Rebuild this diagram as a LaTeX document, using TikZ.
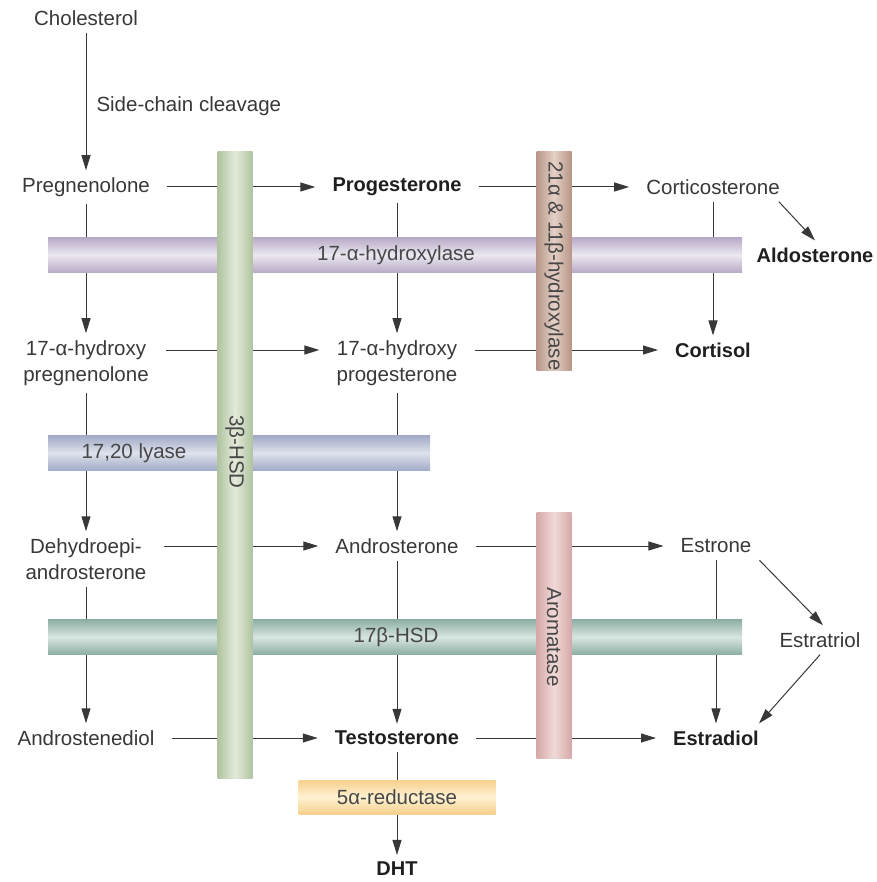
\documentclass[tikz,border=0pt]{standalone}
\usepackage{fontspec}
\setmainfont{Liberation Sans}
\usetikzlibrary{arrows.meta,backgrounds}

\definecolor{purpedge}{RGB}{184,170,200}
\definecolor{purpmid}{RGB}{236,232,240}
\definecolor{greenedge}{RGB}{176,196,160}
\definecolor{greenmid}{RGB}{228,234,218}
\definecolor{brownedge}{RGB}{184,150,136}
\definecolor{brownmid}{RGB}{228,208,198}
\definecolor{blueedge}{RGB}{162,170,198}
\definecolor{bluemid}{RGB}{222,226,236}
\definecolor{tealedge}{RGB}{140,174,164}
\definecolor{tealmid}{RGB}{216,230,224}
\definecolor{pinkedge}{RGB}{214,168,168}
\definecolor{pinkmid}{RGB}{240,218,216}
\definecolor{yellowedge}{RGB}{246,208,140}
\definecolor{yellowmid}{RGB}{255,242,210}

\begin{document}
\begin{tikzpicture}[x=1pt,y=-1pt,
  txt/.style={text=black!78, font=\fontsize{20.5}{26}\selectfont, inner xsep=17pt, inner ysep=7pt, align=center},
  bold/.style={txt, font=\fontsize{20}{26}\selectfont\bfseries, text=black!88},
  lbl/.style={text=black!72, font=\fontsize{20.5}{24}\selectfont, inner sep=0pt},
  arr/.style={-{Triangle[length=15pt,width=9pt]}, line width=1pt, black!78},
  hbar/.style={minimum height=35pt, inner sep=0pt, top color=#1edge, bottom color=#1edge, middle color=#1mid},
  vbar/.style={minimum width=35pt, inner sep=0pt, left color=#1edge, right color=#1edge, middle color=#1mid}]
\useasboundingbox (0,0) rectangle (876,882);

% steroids
\node[txt] (chol) at (86,18) {Cholesterol};
\node[txt] (preg) at (86,187) {Pregnenolone};
\node[bold] (prog) at (397,187) {Progesterone};
\node[txt] (cort) at (713,187) {Corticosterone};
\node[bold] (aldo) at (815,255) {Aldosterone};
\node[txt] (hpreg) at (86,363) {17-α-hydroxy\\pregnenolone};
\node[txt] (hprog) at (397,363) {17-α-hydroxy\\progesterone};
\node[bold] (cortisol) at (713,350) {Cortisol};
\node[txt] (dhea) at (86,559) {Dehydroepi-\\androsterone};
\node[txt] (andro) at (397,546) {Androsterone};
\node[txt] (estrone) at (716,546) {Estrone};
\node[txt] (estriol) at (820,640) {Estratriol};
\node[txt] (andiol) at (86,738) {Androstenediol};
\node[bold] (testo) at (397,738) {Testosterone};
\node[bold] (estradiol) at (716,738) {Estradiol};
\node[bold] (dht) at (397,869) {DHT};

% conversions
\begin{scope}[on background layer]
\draw[arr] (chol) -- node[txt, anchor=west, inner xsep=0pt, xshift=10pt, yshift=-5pt] (cleave) {Side-chain cleavage} (preg);
\foreach \a/\b in {preg/prog, prog/cort, andro/estrone, andiol/testo, testo/estradiol,
                   preg/hpreg, hpreg/dhea, dhea/andiol, prog/hprog, hprog/andro, andro/testo, testo/dht,
                   cort/cortisol, estrone/estradiol}
  \draw[arr] (\a) -- (\b);
\draw[arr] (hpreg.east |- cortisol) -- (hprog.west |- cortisol);
\draw[arr] (hprog.east |- cortisol) -- (cortisol);
\draw[arr] (dhea.east |- andro) -- (andro);
\draw[arr] ([xshift=-18pt]cort.south east) -- (aldo.north);
\draw[arr] ([xshift=-9pt]estrone.south east) -- ([xshift=3pt]estriol.north);
\draw[arr] (estriol.south) -- ([xshift=-17pt]estradiol.north east);
\end{scope}

% enzymes
\node[hbar=purp, minimum width=694pt] (hydrox) at (395,255) {};
\node[hbar=blue, minimum width=382pt] (lyase) at (239,453) {};
\node[hbar=teal, minimum width=694pt] (hsd17) at (395,637) {};
\node[hbar=yellow, minimum width=197pt, minimum height=34pt] (red5) at (397,797) {};
\node[vbar=green, minimum height=626pt] (hsd3) at (235,465) {};
\node[vbar=brown, minimum height=218pt] (hydr21) at (554,261) {};
\node[vbar=pink, minimum height=246pt] (arom) at (554,635) {};

\node[lbl] (hydroxt) at (396,255) {17-α-hydroxylase};
\node[lbl] (lyaset) at (134,453) {17,20 lyase};
\node[lbl] (hsd17t) at (396,637) {17β-HSD};
\node[lbl] (red5t) at (397,797) {5α-reductase};
\node[lbl, rotate=-90] (hsd3t) at (235,452) {3β-HSD};
\node[lbl, rotate=-90] (hydr21t) at (554,266) {21α \& 11β-hydroxylase};
\node[lbl, rotate=-90] (aromt) at (554,637) {Aromatase};
\end{tikzpicture}
\end{document}
